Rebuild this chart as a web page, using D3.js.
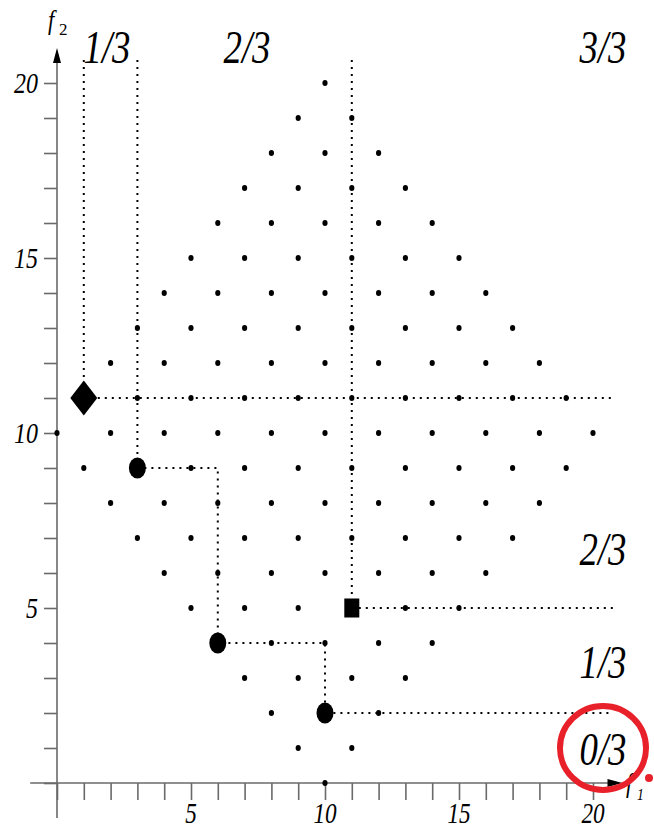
<!DOCTYPE html>
<html>
<head>
<meta charset="utf-8">
<script src="https://cdn.jsdelivr.net/npm/d3@7/dist/d3.min.js"></script>
<style>
  html, body { margin: 0; padding: 0; background: #fff; }
  svg { display: block; }
  text { font-family: "Liberation Serif", "Times New Roman", serif; font-style: italic; fill: #000; }
</style>
</head>
<body>
<svg id="chart" width="654" height="831"></svg>
<script>
// Feasible objective vectors (f1 values listed for each f2 row)
const gridRows = [
  { f2: 20, f1: [10] },
  { f2: 19, f1: [9, 11] },
  { f2: 18, f1: [8, 10, 12] },
  { f2: 17, f1: [7, 9, 11, 13] },
  { f2: 16, f1: [6, 8, 10, 12, 14] },
  { f2: 15, f1: [5, 7, 9, 11, 13, 15] },
  { f2: 14, f1: [4, 6, 8, 10, 12, 14, 16] },
  { f2: 13, f1: [3, 5, 7, 9, 11, 13, 15, 17] },
  { f2: 12, f1: [2, 4, 6, 8, 10, 12, 14, 16, 18] },
  { f2: 11, f1: [3, 5, 7, 9, 11, 13, 15, 17, 19] },
  { f2: 10, f1: [0, 2, 4, 6, 8, 10, 12, 14, 16, 18, 20] },
  { f2: 9,  f1: [1, 5, 7, 9, 11, 13, 15, 17, 19] },
  { f2: 8,  f1: [2, 4, 6, 8, 10, 12, 14, 16, 18] },
  { f2: 7,  f1: [3, 5, 7, 9, 11, 13, 15, 17] },
  { f2: 6,  f1: [4, 6, 8, 10, 12, 14, 16] },
  { f2: 5,  f1: [5, 7, 9, 13, 15] },
  { f2: 4,  f1: [8, 10, 12, 14] },
  { f2: 3,  f1: [7, 9, 11, 13] },
  { f2: 2,  f1: [8, 12] },
  { f2: 1,  f1: [9, 11] },
  { f2: 0,  f1: [10] }
];

// Highlighted solutions
const diamondPoint = [1, 11];
const circlePoints = [[3, 9], [6, 4], [10, 2]];
const squarePoint = [11, 5];

// Dotted guide paths (f1, f2)
const guideLines = [
  [[1, 11], [1, 20.7]],
  [[1, 11], [20.75, 11]],
  [[3, 9], [3, 20.7]],
  [[3, 9], [6, 9], [6, 4], [10, 4], [10, 2], [20.75, 2]],
  [[11, 5], [11, 20.7]],
  [[11, 5], [20.75, 5]]
];

const xTickValues = d3.range(0, 21);
const yTickValues = d3.range(0, 21);
const xTickLabels = [5, 10, 15, 20];
const yTickLabels = [5, 10, 15, 20];

const topLabels = ["1/3", "2/3", "3/3"];
const rightLabels = ["2/3", "1/3", "0/3"];

const svg = d3.select("#chart");
const x = d3.scaleLinear().domain([0, 20]).range([57, 593]);
const y = d3.scaleLinear().domain([0, 20]).range([783, 83]);

const axisColor = "#6a6a6a";

// Ticks (no labels) via d3 axes
const xAxis = d3.axisBottom(x).tickValues(xTickValues).tickSize(17).tickFormat("");
const yAxis = d3.axisLeft(y).tickValues(yTickValues).tickSize(13).tickFormat("");
const gx = svg.append("g").attr("transform", `translate(0,${y(0)})`).call(xAxis);
const gy = svg.append("g").attr("transform", `translate(${x(0)},0)`).call(yAxis);
[gx, gy].forEach(g => {
  g.select(".domain").remove();
  g.selectAll(".tick line").attr("stroke", axisColor).attr("stroke-width", 1.6);
});

// Axis lines extended past the origin, with arrowheads
svg.append("line").attr("x1", x(-1)).attr("x2", x(21.1) - 8).attr("y1", y(0)).attr("y2", y(0))
  .attr("stroke", axisColor).attr("stroke-width", 1.6);
svg.append("line").attr("x1", x(0)).attr("x2", x(0)).attr("y1", y(-1)).attr("y2", y(21) + 8)
  .attr("stroke", axisColor).attr("stroke-width", 1.6);
const xt = x(21.1), yt = y(21);
svg.append("path").attr("d", `M${xt},${y(0)} L${xt - 15},${y(0) - 4} L${xt - 15},${y(0) + 4} Z`).attr("fill", "#000");
svg.append("path").attr("d", `M${x(0)},${yt} L${x(0) - 4},${yt + 15} L${x(0) + 4},${yt + 15} Z`).attr("fill", "#000");

// Helper for the narrow italic lettering
function label(str, px, py, size, anchor) {
  return svg.append("text")
    .attr("transform", `translate(${px},${py}) scale(0.8,1)`)
    .attr("text-anchor", anchor)
    .style("font-size", size + "px")
    .text(str);
}

xTickLabels.forEach(v => label(String(v), x(v), 823, 29, "middle"));
yTickLabels.forEach(v => label(String(v), 38, y(v) + 10, 30, "end"));

// Axis titles
label("f", 48, 29, 28, "start");
svg.append("text").attr("x", 59).attr("y", 35).style("font-size", "17px").style("font-style", "normal").text("2");
label("f", 626, 792, 28, "start");
label("1", 637, 800, 17, "start");

// Dotted guides
const line = d3.line().x(d => x(d[0])).y(d => y(d[1]));
svg.append("g").selectAll("path").data(guideLines).join("path")
  .attr("d", line)
  .attr("fill", "none")
  .attr("stroke", "#000")
  .attr("stroke-width", 2)
  .attr("stroke-dasharray", "2 5");

// Lattice dots
const dots = gridRows.flatMap(r => r.f1.map(v => [v, r.f2]));
svg.append("g").selectAll("ellipse").data(dots).join("ellipse")
  .attr("cx", d => x(d[0])).attr("cy", d => y(d[1]))
  .attr("rx", 2.6).attr("ry", 3).attr("fill", "#000");

// Highlighted markers
svg.append("path")
  .attr("d", () => {
    const cx = x(diamondPoint[0]), cy = y(diamondPoint[1]);
    return `M${cx},${cy - 17.5} L${cx + 13.5},${cy} L${cx},${cy + 17.5} L${cx - 13.5},${cy} Z`;
  })
  .attr("fill", "#000");
svg.append("g").selectAll("ellipse").data(circlePoints).join("ellipse")
  .attr("cx", d => x(d[0])).attr("cy", d => y(d[1]))
  .attr("rx", 8.5).attr("ry", 10.5).attr("fill", "#000");
svg.append("rect")
  .attr("x", x(squarePoint[0]) - 7.5).attr("y", y(squarePoint[1]) - 9.5)
  .attr("width", 15).attr("height", 19).attr("fill", "#000");

// Region labels
const topX = [107, 247, 603];
topLabels.forEach((t, i) => label(t, topX[i], 63, 46, "middle"));
const rightY = [565, 678, 765];
rightLabels.forEach((t, i) => label(t, 603, rightY[i], 46, "middle"));

// Red highlight ring and dot
svg.append("ellipse").attr("cx", 603).attr("cy", 748).attr("rx", 43).attr("ry", 42)
  .attr("fill", "none").attr("stroke", "#e8202a").attr("stroke-width", 6);
svg.append("circle").attr("cx", 649).attr("cy", 778).attr("r", 4).attr("fill", "#e8202a");
</script>
</body>
</html>
